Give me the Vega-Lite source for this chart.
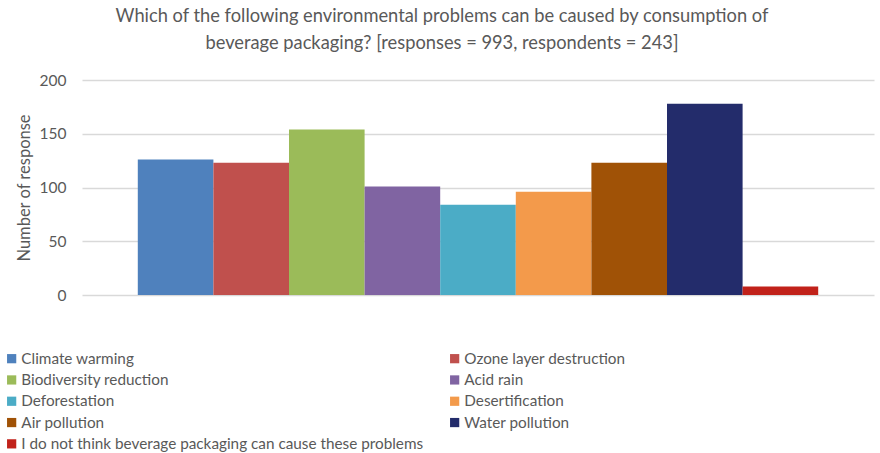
{
  "$schema": "https://vega.github.io/schema/vega-lite/v6.json",
  "autosize": "none",
  "width": 792,
  "height": 215,
  "padding": {"left": 82, "top": 80, "right": 6, "bottom": 158},
  "background": "white",
  "title": {
    "text": ["Which of the following environmental problems can be caused by consumption of", "beverage packaging? [responses = 993, respondents = 243]"],
    "font": "Lato",
    "fontSize": 18.3,
    "fontWeight": "normal",
    "color": "#595959",
    "anchor": "middle",
    "dx": -36,
    "offset": 20,
    "lineHeight": 27
  },
  "data": {
    "values": [
      {"problem": "Climate warming", "responses": 126},
      {"problem": "Ozone layer destruction", "responses": 123},
      {"problem": "Biodiversity reduction", "responses": 154},
      {"problem": "Acid rain", "responses": 101},
      {"problem": "Deforestation", "responses": 84},
      {"problem": "Desertification", "responses": 96},
      {"problem": "Air pollution", "responses": 123},
      {"problem": "Water pollution", "responses": 178},
      {"problem": "I do not think beverage packaging can cause these problems", "responses": 8}
    ]
  },
  "mark": {"type": "bar"},
  "encoding": {
    "x": {
      "field": "problem",
      "type": "nominal",
      "sort": null,
      "scale": {"paddingInner": 0, "paddingOuter": 0.738},
      "axis": null
    },
    "y": {
      "field": "responses",
      "type": "quantitative",
      "scale": {"domain": [0, 200]},
      "axis": {
        "values": [0, 50, 100, 150, 200],
        "title": "Number of response",
        "titleFont": "Lato",
        "titleFontSize": 16.5,
        "titleFontWeight": "normal",
        "titleColor": "#595959",
        "titlePadding": 7,
        "labelFont": "Lato",
        "labelFontSize": 15.5,
        "labelColor": "#595959",
        "labelPadding": 16,
        "ticks": false,
        "domain": false,
        "grid": true,
        "gridColor": "#d9d9d9",
        "gridWidth": 1.4
      }
    },
    "color": {
      "field": "problem",
      "type": "nominal",
      "sort": null,
      "scale": {
        "domain": ["Climate warming", "Ozone layer destruction", "Biodiversity reduction", "Acid rain", "Deforestation", "Desertification", "Air pollution", "Water pollution", "I do not think beverage packaging can cause these problems"],
        "range": ["#4F81BD", "#C0504D", "#9BBB59", "#8064A2", "#4BACC6", "#F39A4B", "#A05206", "#232C6B", "#C1221A"]
      },
      "legend": {
        "orient": "none",
        "legendX": -78,
        "legendY": 271,
        "direction": "horizontal",
        "columns": 2,
        "gridAlign": "all",
        "columnPadding": 23,
        "rowPadding": 5.3,
        "title": null,
        "symbolType": "square",
        "symbolSize": 85,
        "symbolStrokeWidth": 0,
        "symbolOpacity": 1,
        "labelFont": "Lato",
        "labelFontSize": 15.3,
        "labelColor": "#595959",
        "labelOffset": 2,
        "labelLimit": 500
      }
    }
  },
  "config": {"view": {"stroke": null}}
}
